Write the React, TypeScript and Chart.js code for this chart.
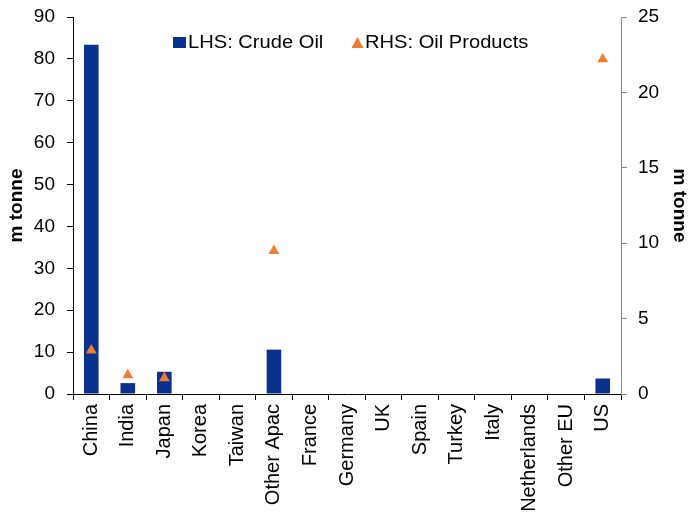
import React, { useEffect, useRef } from "react";
import { Chart, registerables } from "chart.js";

Chart.register(...registerables);

const categories = ["China", "India", "Japan", "Korea", "Taiwan", "Other Apac", "France", "Germany", "UK", "Spain", "Turkey", "Italy", "Netherlands", "Other EU", "US"];
const crudeOil = [83.4, 2.6, 5.3, 0, 0, 10.6, 0, 0, 0, 0, 0, 0, 0, 0, 3.7];
const oilProducts = [2.9, 1.25, 1.05, null, null, 9.5, null, null, null, null, null, null, null, null, 22.2];
const leftTicks = [0, 10, 20, 30, 40, 50, 60, 70, 80, 90];
const rightTicks = [0, 5, 10, 15, 20, 25];
const legendLabels = ["LHS: Crude Oil", "RHS: Oil Products"];

const BLUE = "#0B318F";
const ORANGE = "#ED7D31";
const FONT = "'Liberation Sans', Arial, sans-serif";

const legendPlugin = {
  id: "customLegend",
  afterDraw(chart: any) {
    const ctx = chart.ctx;
    ctx.save();
    ctx.fillStyle = BLUE;
    ctx.fillRect(173, 37, 13, 11);
    ctx.fillStyle = ORANGE;
    ctx.beginPath();
    ctx.moveTo(357.5, 37);
    ctx.lineTo(363.5, 48);
    ctx.lineTo(351.5, 48);
    ctx.closePath();
    ctx.fill();
    ctx.font = `17.5px ${FONT}`;
    ctx.fillStyle = "#000";
    ctx.textBaseline = "middle";
    ctx.textAlign = "left";
    const sx = 1.15;
    ctx.save();
    ctx.translate(188, 43);
    ctx.scale(sx, 1);
    ctx.fillText(legendLabels[0], 0, 0);
    ctx.restore();
    ctx.save();
    ctx.translate(365, 43);
    ctx.scale(sx, 1);
    ctx.fillText(legendLabels[1], 0, 0);
    ctx.restore();
    ctx.restore();
  },
};

export default function App() {
  const ref = useRef<HTMLCanvasElement>(null);
  useEffect(() => {
    if (!ref.current) return;
    const chart = new Chart(ref.current, {
      type: "bar",
      data: {
        labels: categories,
        datasets: [
          {
            type: "line",
            label: legendLabels[1],
            data: oilProducts as any,
            yAxisID: "y1",
            showLine: false,
            pointStyle: "triangle",
            pointRadius: 6.3,
            pointBackgroundColor: ORANGE,
            pointBorderColor: ORANGE,
            pointBorderWidth: 0,
            order: 0,
          },
          {
            type: "bar",
            label: legendLabels[0],
            data: crudeOil,
            yAxisID: "y",
            backgroundColor: BLUE,
            borderWidth: 0,
            barPercentage: 0.4,
            categoryPercentage: 1,
            order: 1,
          },
        ],
      },
      options: {
        animation: false,
        responsive: true,
        maintainAspectRatio: false,
        layout: { padding: { top: 17, right: 0, left: 0, bottom: 0 } },
        plugins: { legend: { display: false }, tooltip: { enabled: false }, title: { display: false } },
        scales: {
          x: {
            offset: true,
            grid: { offset: true, drawOnChartArea: false, drawTicks: true, tickLength: 6, color: "#000" },
            border: { display: true, color: "#000", width: 1 },
            ticks: {
              maxRotation: 90,
              minRotation: 90,
              autoSkip: false,
              padding: 4,
              color: "#000",
              font: { family: FONT, size: 20 },
            },
            afterFit(scale: any) {
              scale.height = 120;
              scale.paddingLeft = 0;
              scale.paddingRight = 0;
            },
          },
          y: {
            position: "left",
            min: 0,
            max: 90,
            afterBuildTicks(scale: any) {
              scale.ticks = leftTicks.map((v) => ({ value: v }));
            },
            grid: { drawOnChartArea: false, drawTicks: true, tickLength: 6, color: "#000" },
            border: { display: true, color: "#000", width: 1 },
            ticks: { padding: 12, color: "#000", font: { family: FONT, size: 19 } },
            title: {
              display: true,
              text: "m tonne",
              color: "#000",
              font: { family: FONT, size: 19, weight: "bold", lineHeight: 1 },
              padding: { top: 7, bottom: 0 },
            },
            afterFit(scale: any) {
              scale.width = 73;
              scale.paddingTop = 0;
              scale.paddingBottom = 0;
            },
          },
          y1: {
            position: "right",
            min: 0,
            max: 25,
            afterBuildTicks(scale: any) {
              scale.ticks = rightTicks.map((v) => ({ value: v }));
            },
            grid: { drawOnChartArea: false, drawTicks: true, tickLength: 6, color: "#888" },
            border: { display: true, color: "#888", width: 1 },
            ticks: { padding: 11, color: "#000", font: { family: FONT, size: 19 } },
            title: {
              display: true,
              text: "m tonne",
              color: "#000",
              font: { family: FONT, size: 19, weight: "bold", lineHeight: 1 },
              padding: { top: 0, bottom: 0 },
            },
            afterFit(scale: any) {
              scale.width = 68;
              scale.paddingTop = 0;
              scale.paddingBottom = 0;
            },
          },
        },
      },
      plugins: [legendPlugin],
    });
    return () => chart.destroy();
  }, []);
  return (
    <div style={{ position: "absolute", left: 0, top: 0, width: 689, height: 514, background: "#fff" }}>
      <canvas ref={ref} />
    </div>
  );
}
